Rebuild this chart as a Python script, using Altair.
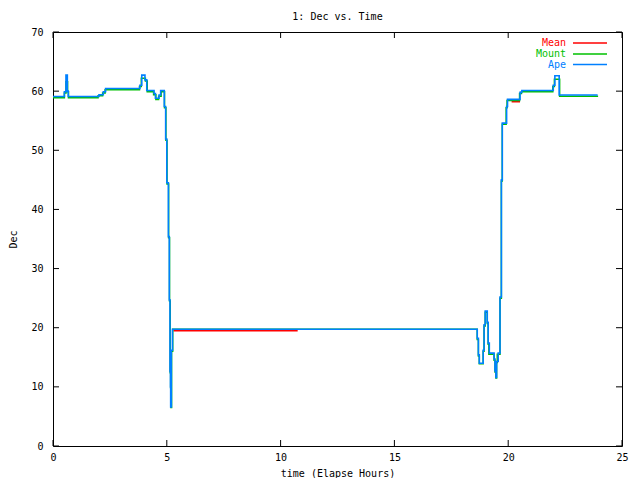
import altair as alt
import pandas as pd

# ---- data ----
ape_t = [0.00, 0.50, 0.57, 0.63, 0.67, 2.02, 2.21, 2.31, 3.82, 3.90, 4.04, 4.12, 4.44, 4.50,
         4.66, 4.73, 4.89, 4.95, 5.00, 5.07, 5.11, 5.14, 5.16, 5.17, 5.20, 5.25, 18.64, 18.69,
         18.73, 18.90, 18.94, 18.99, 19.08, 19.12, 19.17, 19.38, 19.42, 19.46, 19.49, 19.56,
         19.64, 19.70, 19.74, 19.93, 19.97, 20.52, 20.60, 21.98, 22.05, 22.24, 23.93]
ape_v = [59.1, 59.9, 62.7, 60.0, 59.1, 59.4, 59.9, 60.45, 61.0, 62.7, 61.9, 60.1, 59.6, 58.8,
         59.35, 60.1, 57.4, 51.9, 44.5, 35.4, 24.7, 12.6, 10.0, 6.6, 16.2, 19.75, 18.2, 15.4,
         14.0, 16.2, 20.5, 22.8, 20.9, 17.4, 15.7, 14.7, 12.7, 11.6, 14.3, 15.7,
         25.2, 45.0, 54.6, 57.4, 58.6, 59.8, 60.1, 61.0, 62.6, 59.35, 59.35]

mount_t = [0.00, 0.50, 0.57, 0.64, 0.68, 1.98, 2.18, 2.29, 3.80, 3.88, 4.06, 4.14, 4.42, 4.52,
           4.64, 4.75, 4.90, 4.96, 5.01, 5.08, 5.12, 5.15, 5.17, 5.18, 5.21, 5.26, 18.64, 18.69,
           18.73, 18.90, 18.94, 18.99, 19.08, 19.12, 19.15, 19.38, 19.42, 19.46, 19.49, 19.52,
           19.64, 19.70, 19.74, 19.91, 19.95, 20.50, 20.58, 21.96, 22.03, 22.26, 23.95]
mount_v = [58.9, 59.7, 61.6, 59.9, 58.9, 59.2, 59.7, 60.25, 60.8, 62.2, 61.7, 59.9, 59.4, 58.6,
           59.15, 59.9, 57.2, 51.7, 44.3, 35.2, 24.5, 12.4, 9.8, 6.5, 16.0, 19.75, 18.0, 15.2,
           13.9, 16.0, 20.3, 22.6, 20.7, 17.2, 15.5, 14.5, 12.5, 11.5, 14.1, 15.5,
           25.0, 44.8, 54.4, 57.2, 58.4, 59.6, 59.9, 60.8, 62.0, 59.15, 59.15]

mean_t = [5.29, 10.75, 20.15, 20.52]
mean_v = [19.55, 19.55, 58.25, 58.25]
mean_seg = [0, 0, 1, 1]

x_ticks = [0, 5, 10, 15, 20, 25]
y_ticks = [0, 10, 20, 30, 40, 50, 60, 70]

names = ["Mean", "Mount", "Ape"]
colors = ["#ff0000", "#00c000", "#0080ff"]

# ---- layout ----
W, H = 569, 414
FONT = "DejaVu Sans Mono"
FS = 10
TL = 6  # tick length

xs = alt.Scale(domain=[0, 25], nice=False)
ys = alt.Scale(domain=[0, 70], nice=False)

ape = pd.DataFrame({"t": ape_t, "v": ape_v})
mount = pd.DataFrame({"t": mount_t, "v": mount_v})
mean = pd.DataFrame({"t": mean_t, "v": mean_v, "seg": mean_seg})

axis_style = dict(labelFont=FONT, labelFontSize=FS, labelColor="black", titleFont=FONT,
                  titleFontSize=FS, titleFontWeight="normal", titleColor="black",
                  ticks=False, domain=False, grid=False)
xaxis = alt.Axis(values=x_ticks, labelPadding=6, title="time (Elapse Hours)", titlePadding=6,
                 labelFlush=False, **axis_style)
yaxis = alt.Axis(values=y_ticks, labelPadding=10, title="Dec", titlePadding=12, **axis_style)

mean_layer = alt.Chart(mean).mark_line(color=colors[0], strokeWidth=2, interpolate="linear").encode(
    x=alt.X("t:Q", scale=xs, axis=xaxis),
    y=alt.Y("v:Q", scale=ys, axis=yaxis),
    detail="seg:N",
)
mount_layer = alt.Chart(mount).mark_line(color=colors[1], strokeWidth=1.5, interpolate="step-after").encode(
    x=alt.X("t:Q", scale=xs), y=alt.Y("v:Q", scale=ys))
ape_layer = alt.Chart(ape).mark_line(color=colors[2], strokeWidth=1.6, interpolate="step-after").encode(
    x=alt.X("t:Q", scale=xs), y=alt.Y("v:Q", scale=ys))

xt = pd.DataFrame({"x": x_ticks})
yt = pd.DataFrame({"y": y_ticks})
tick_layers = [
    alt.Chart(xt).mark_rule(color="black", strokeWidth=1).encode(
        x=alt.X("x:Q", scale=xs), y=alt.value(H), y2=alt.value(H - TL)),
    alt.Chart(xt).mark_rule(color="black", strokeWidth=1).encode(
        x=alt.X("x:Q", scale=xs), y=alt.value(0), y2=alt.value(TL)),
    alt.Chart(yt).mark_rule(color="black", strokeWidth=1).encode(
        y=alt.Y("y:Q", scale=ys), x=alt.value(0), x2=alt.value(TL)),
    alt.Chart(yt).mark_rule(color="black", strokeWidth=1).encode(
        y=alt.Y("y:Q", scale=ys), x=alt.value(W), x2=alt.value(W - TL)),
]

legend_layers = []
row_y = [11.0, 22.0, 32.5]
for i, (n, c) in enumerate(zip(names, colors)):
    d = pd.DataFrame({"name": [n]})
    legend_layers.append(
        alt.Chart(d).mark_text(align="right", baseline="middle", font=FONT, fontSize=FS, color=c).encode(
            text="name:N", x=alt.value(513), y=alt.value(row_y[i])))
    legend_layers.append(
        alt.Chart(d).mark_rule(color=c, strokeWidth=1.5).encode(
            x=alt.value(520), x2=alt.value(554), y=alt.value(row_y[i])))

chart = alt.layer(mean_layer, mount_layer, ape_layer, *tick_layers, *legend_layers).properties(
    width=W, height=H,
    background="white",
    title=alt.TitleParams("1: Dec vs. Time", font=FONT, fontSize=FS, fontWeight="normal",
                          color="black", anchor="middle", offset=5),
    autosize=alt.AutoSizeParams(type="none"),
    padding={"left": 45, "top": 24, "right": 8, "bottom": 32},
).configure_view(stroke="black", strokeWidth=1)

chart.save("out.html", embed_options={"renderer": "svg", "actions": False})
